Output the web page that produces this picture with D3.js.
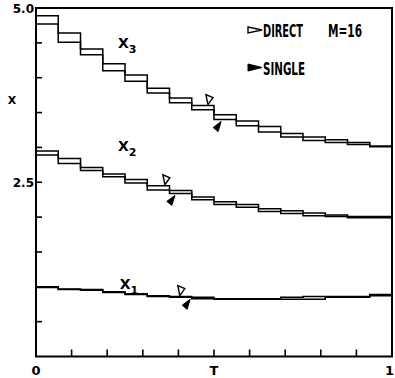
<!DOCTYPE html>
<html>
<head>
<meta charset="utf-8">
<script src="https://cdn.jsdelivr.net/npm/d3@7"></script>
<style>
  html, body { margin: 0; padding: 0; background: #fff; }
  svg { display: block; }
</style>
</head>
<body>
<div class="vis"></div>
<script>
const width = 395, height = 378;

// 16 intervals on [0,1]
const M = 16;
const x3Direct = [4.89, 4.64, 4.41, 4.20, 4.04, 3.85, 3.71, 3.60, 3.47, 3.38, 3.30, 3.20, 3.15, 3.11, 3.07, 3.02];
const x3Single = [4.77, 4.51, 4.33, 4.10, 3.95, 3.78, 3.64, 3.54, 3.40, 3.31, 3.22, 3.15, 3.10, 3.07, 3.04, 3.01];
const x2Direct = [2.95, 2.84, 2.71, 2.62, 2.54, 2.45, 2.38, 2.29, 2.22, 2.18, 2.12, 2.09, 2.06, 2.03, 2.01, 2.01];
const x2Single = [2.89, 2.77, 2.67, 2.58, 2.49, 2.39, 2.34, 2.25, 2.18, 2.14, 2.08, 2.05, 2.02, 2.01, 1.99, 1.99];
const x1Direct = [1.00, 0.97, 0.96, 0.93, 0.90, 0.87, 0.86, 0.85, 0.83, 0.83, 0.83, 0.85, 0.86, 0.86, 0.86, 0.89];
const x1Single = [0.99, 0.96, 0.95, 0.92, 0.89, 0.86, 0.85, 0.83, 0.82, 0.82, 0.82, 0.82, 0.82, 0.85, 0.85, 0.87];

// where the little curve markers sit (t position)
const directMarkT = [0.404, 0.362, 0.483];   // x1, x2, x3
const singleMarkT = [0.433, 0.39, 0.52];
const curveNames = ["1", "2", "3"];
const curveLabelPos = [[0.235, 0.97], [0.23, 2.95], [0.23, 4.42]];

const yTicks = [0.5, 1.0, 1.5, 2.0, 2.5, 3.0, 3.5, 4.0, 4.5];
const yLabels = [[5.0, "5.0"], [2.5, "2.5"]];
const xTicks = [0.1, 0.2, 0.3, 0.4, 0.5, 0.6, 0.7, 0.8, 0.9];
const xLabels = [[0, "0"], [0.5, "T"], [1, "1"]];

const x = d3.scaleLinear().domain([0, 1]).range([36, 392]);
const y = d3.scaleLinear().domain([0, 5]).range([356.5, 8]);

const svg = d3.select(".vis").append("svg")
    .attr("width", width)
    .attr("height", height);

// frame
svg.append("rect")
    .attr("x", x(0)).attr("y", y(5))
    .attr("width", x(1) - x(0)).attr("height", y(0) - y(5))
    .style("fill", "none").style("stroke", "#000").style("stroke-width", 2);

// inward ticks
svg.append("g").selectAll("line").data(yTicks).join("line")
    .attr("x1", x(0)).attr("x2", x(0) + 6)
    .attr("y1", d => y(d)).attr("y2", d => y(d))
    .style("stroke", "#000").style("stroke-width", 1.6);

svg.append("g").selectAll("line").data(xTicks).join("line")
    .attr("x1", d => x(d)).attr("x2", d => x(d))
    .attr("y1", y(0)).attr("y2", y(0) - 7)
    .style("stroke", "#000").style("stroke-width", 1.6);

const labelFont = "'DejaVu Sans', sans-serif";

svg.append("g").selectAll("text").data(yLabels).join("text")
    .attr("x", 34).attr("y", d => y(d[0]) + 4.5)
    .text(d => d[1])
    .style("font-family", labelFont).style("font-weight", "bold")
    .style("font-size", "12px").style("text-anchor", "end");

// the last label sits flush against the right edge
svg.append("g").selectAll("text").data(xLabels).join("text")
    .attr("x", d => d[0] === 1 ? width - 1 : x(d[0])).attr("y", 375)
    .text(d => d[1])
    .style("font-family", labelFont).style("font-weight", "bold")
    .style("font-size", "13px")
    .style("text-anchor", d => d[0] === 1 ? "end" : "middle");

svg.append("text")
    .attr("x", 12).attr("y", 104)
    .text("X")
    .style("font-family", labelFont).style("font-weight", "bold")
    .style("font-size", "11px").style("text-anchor", "middle");

// step curves
const stepLine = d3.line()
    .x(d => x(d[0])).y(d => y(d[1]))
    .curve(d3.curveStepAfter);

function steps(vals) {
    const pts = vals.map((v, i) => [i / M, v]);
    pts.push([1, vals[vals.length - 1]]);
    return pts;
}

const allSeries = [x1Direct, x1Single, x2Direct, x2Single, x3Direct, x3Single];
svg.append("g").selectAll("path").data(allSeries).join("path")
    .attr("d", d => stepLine(steps(d)))
    .style("fill", "none").style("stroke", "#000").style("stroke-width", 1.5);

function valAt(vals, t) {
    return vals[Math.min(M - 1, Math.floor(t * M))];
}

const directs = [x1Direct, x2Direct, x3Direct];
const singles = [x1Single, x2Single, x3Single];

// open (direct) markers sit above the curve, tip down
svg.append("g").selectAll("path").data(directMarkT).join("path")
    .attr("transform", (t, i) => "translate(" + x(t) + "," + (y(valAt(directs[i], t)) - 1) + ")")
    .attr("d", "M0,0 L-2,-10 L5,-7 Z")
    .style("fill", "#fff").style("stroke", "#000").style("stroke-width", 1.4);

// filled (single) markers below the curve, tip up
svg.append("g").selectAll("path").data(singleMarkT).join("path")
    .attr("transform", (t, i) => "translate(" + x(t) + "," + (y(valAt(singles[i], t)) + 2) + ")")
    .attr("d", "M0,0 L-8,6 L-3,10 Z")
    .style("fill", "#000").style("stroke", "#000").style("stroke-width", 1);

// curve names x1 x2 x3
const nameG = svg.append("g").selectAll("text").data(curveNames).join("text")
    .attr("x", (d, i) => x(curveLabelPos[i][0]))
    .attr("y", (d, i) => y(curveLabelPos[i][1]))
    .style("font-family", labelFont).style("font-weight", "bold")
    .style("font-size", "14px");
nameG.append("tspan").text("X");
nameG.append("tspan").text(d => d)
    .attr("dy", 5).style("font-size", "11px");

// legend
const legFont = "'DejaVu Sans Condensed', 'DejaVu Sans', sans-serif";
svg.append("path")
    .attr("d", "M248,27 L262,30 L248,33 Z")
    .style("fill", "#fff").style("stroke", "#000").style("stroke-width", 1.4);
svg.append("path")
    .attr("d", "M248,64 L262,67.5 L248,71 Z")
    .style("fill", "#000").style("stroke", "#000").style("stroke-width", 1);

const legendText = [["DIRECT", 263, 37, 40], ["M=16", 328, 37, 34], ["SINGLE", 263, 74.5, 42]];
svg.append("g").selectAll("text").data(legendText).join("text")
    .attr("x", d => d[1]).attr("y", d => d[2])
    .attr("textLength", d => d[3]).attr("lengthAdjust", "spacingAndGlyphs")
    .text(d => d[0])
    .style("font-family", legFont).style("font-weight", "bold")
    .style("font-size", "17px");
</script>
</body>
</html>
